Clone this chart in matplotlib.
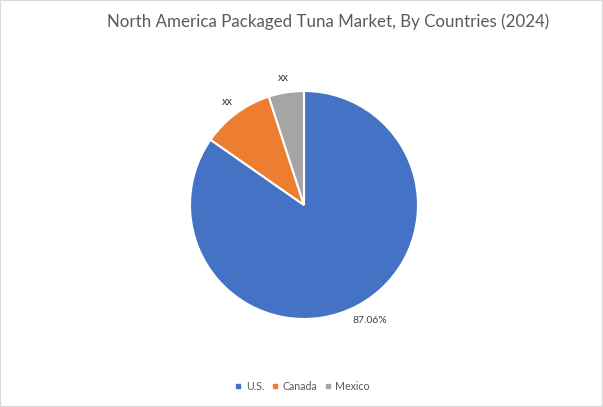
import matplotlib.pyplot as plt
from matplotlib.lines import Line2D

countries = ["U.S.", "Canada", "Mexico"]
shares = [84.7, 10.3, 5.0]
colors = ["#4472C4", "#ED7D31", "#A5A5A5"]
pie_labels = ["87.06%", "xx", "xx"]

plt.rcParams["font.family"] = ["Lato", "DejaVu Sans"]

fig = plt.figure(figsize=(6.03, 4.07), dpi=100)

# pie centre is about (304, 205), radius about 114 px
ax = fig.add_axes([(304 - 114) / 603, (407 - 205 - 114) / 407, 228 / 603, 228 / 407])
wedges, _ = ax.pie(shares, colors=colors, startangle=90, counterclock=False, radius=1,
                   wedgeprops={"edgecolor": "white", "linewidth": 1.5})
ax.set_xlim(-1, 1)
ax.set_ylim(-1, 1)

# labels
ax.text(0.575, -1.015, pie_labels[0], fontsize=7.5, color="#404040", ha="center", va="center")
ax.text(-0.675, 0.91, pie_labels[1], fontsize=8, color="#404040", ha="center", va="center")
ax.text(-0.18, 1.12, pie_labels[2], fontsize=8, color="#404040", ha="center", va="center")

fig.text(328 / 603, 1 - 22 / 407, "North America Packaged Tuna Market, By Countries (2024)",
         fontsize=12.2, color="#595959", ha="center", va="center")

handles = [Line2D([], [], marker="s", linestyle="", color=c, markersize=3.5) for c in colors]
fig.legend(handles, countries, loc="center", bbox_to_anchor=(302 / 603, 1 - 386 / 407), ncol=3,
           frameon=False, fontsize=7.7, labelcolor="#595959", handlelength=0.8,
           handletextpad=0.3, columnspacing=0.6)

# thin grey frame at the edge of the image
fig.add_artist(plt.Rectangle((0, 0), 1, 1, transform=fig.transFigure, fill=False,
                             edgecolor="#D9D9D9", linewidth=1.5))

fig.savefig("out.png", dpi=100)
